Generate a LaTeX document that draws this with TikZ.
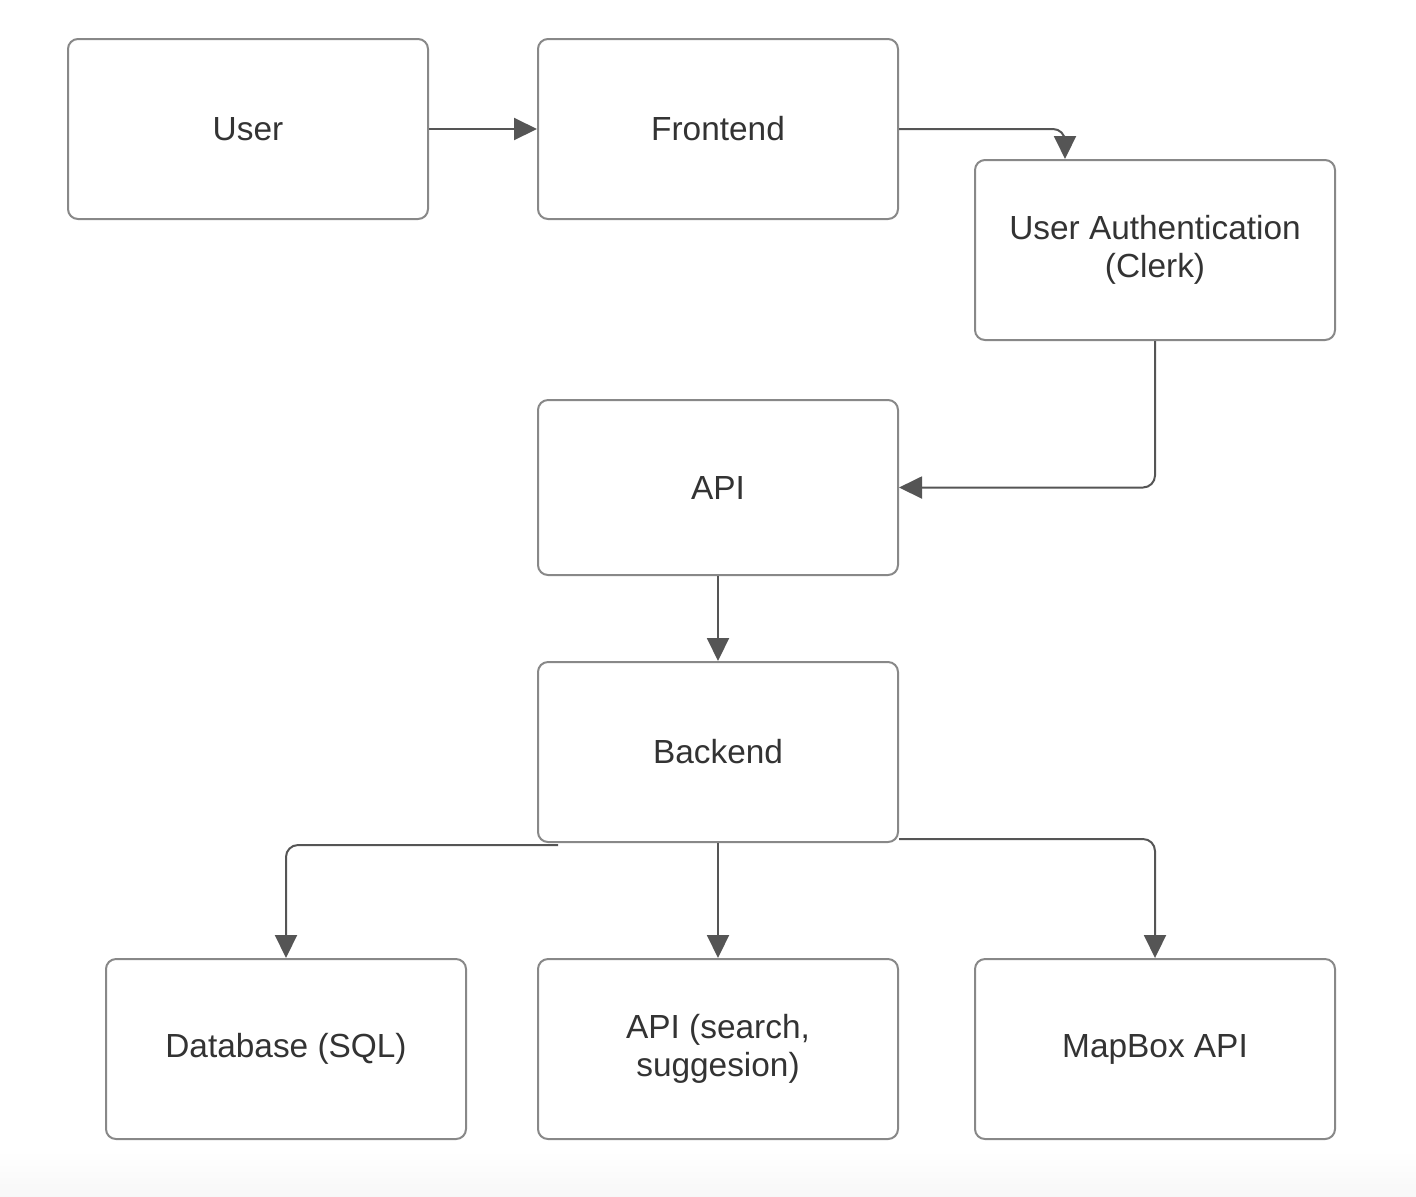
\documentclass[tikz,border=0pt]{standalone}
\usepackage{fontspec}
\setmainfont{Liberation Sans}
\usetikzlibrary{arrows.meta}
\definecolor{boxline}{HTML}{888888}
\definecolor{arrowline}{HTML}{555555}
\definecolor{labeltext}{HTML}{333333}
\begin{document}
\begin{tikzpicture}
  [x=0.5pt, y=-0.5pt,
   every node/.style={draw=boxline, line width=1pt, rounded corners=5pt, rectangle,
     minimum width=180pt, minimum height=90pt, align=center, text=labeltext,
     font=\fontsize{16.7}{19}\selectfont},
   link/.style={draw=arrowline, line width=1pt, rounded corners=6pt,
     -{Triangle[length=11.5pt,width=11pt]}}]
  \useasboundingbox (0,0) rectangle (1416,1196);
  \shade[top color=white, bottom color=black!3] (0,1150) rectangle (1416,1196);
  \node (user) at (248,129) {User};
  \node (frontend) at (718,129) {Frontend};
  \node (auth) at (1155,250) {User Authentication\\(Clerk)};
  \node [minimum height=87.5pt] (api) at (718,487.5) {API};
  \node (backend) at (718,752) {Backend};
  \node (db) at (286,1049) {Database (SQL)};
  \node (search) at (718,1049) {API (search,\\suggesion)};
  \node (mapbox) at (1155,1049) {MapBox API};
  \draw[link] (user) -- (frontend);
  \draw[link] (frontend.east) -| ([xshift=-45pt]auth.north);
  \draw[link] (auth.south) |- (api.east);
  \draw[link] (api) -- (backend);
  \draw[link] ([xshift=-80pt,yshift=-1pt]backend.south) -| (db.north);
  \draw[link] (backend) -- (search);
  \draw[link] ([yshift=2pt]backend.south east) -| (mapbox.north);
\end{tikzpicture}
\end{document}
